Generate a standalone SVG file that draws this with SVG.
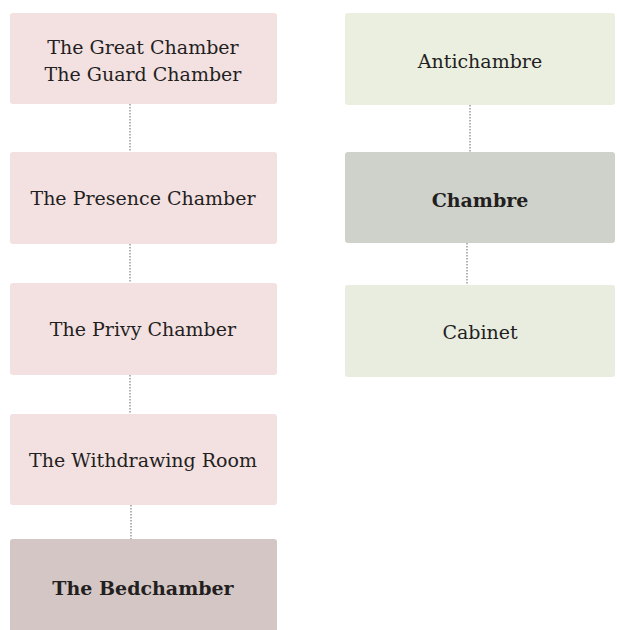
<svg xmlns="http://www.w3.org/2000/svg" width="617" height="630" viewBox="0 0 617 630">
<style>
.t{font-family:"DejaVu Serif","Liberation Serif",serif;font-size:19px;fill:#231f1f;text-anchor:middle}
.b{font-weight:bold}
.c{stroke:#9a9a9a;stroke-width:1.5;stroke-dasharray:1.5 1.5;fill:none}
</style>
<rect width="617" height="630" fill="#ffffff"/>
<g id="connectors">
<line class="c" x1="130" y1="104" x2="130" y2="152"/>
<line class="c" x1="130" y1="244" x2="130" y2="283"/>
<line class="c" x1="130" y1="375" x2="130" y2="414"/>
<line class="c" x1="131" y1="505" x2="131" y2="539"/>
<line class="c" x1="470" y1="105" x2="470" y2="152"/>
<line class="c" x1="467" y1="243" x2="467" y2="285"/>
</g>
<g id="great"><rect x="10" y="13" width="267" height="91" rx="3" fill="#f3e0e0"/>
<text class="t" x="143" y="54">The Great Chamber</text><text class="t" x="143" y="81">The Guard Chamber</text></g>
<g id="presence"><rect x="10" y="152" width="267" height="92" rx="3" fill="#f3e0e0"/>
<text class="t" x="143" y="205">The Presence Chamber</text></g>
<g id="privy"><rect x="10" y="283" width="267" height="92" rx="3" fill="#f3e0e0"/>
<text class="t" x="143" y="336">The Privy Chamber</text></g>
<g id="withdrawing"><rect x="10" y="414" width="267" height="91" rx="3" fill="#f3e0e0"/>
<text class="t" x="143" y="467">The Withdrawing Room</text></g>
<g id="bedchamber"><rect x="10" y="539" width="267" height="95" rx="3" fill="#d3c6c4"/>
<text class="t b" x="143" y="595">The Bedchamber</text></g>
<g id="antichambre"><rect x="345" y="13" width="270" height="92" rx="3" fill="#ebefe0"/>
<text class="t" x="480" y="68">Antichambre</text></g>
<g id="chambre"><rect x="345" y="152" width="270" height="91" rx="3" fill="#cfd2ca"/>
<text class="t b" x="480" y="207">Chambre</text></g>
<g id="cabinet"><rect x="345" y="285" width="270" height="92" rx="3" fill="#e9eddf"/>
<text class="t" x="480" y="339">Cabinet</text></g>
</svg>
